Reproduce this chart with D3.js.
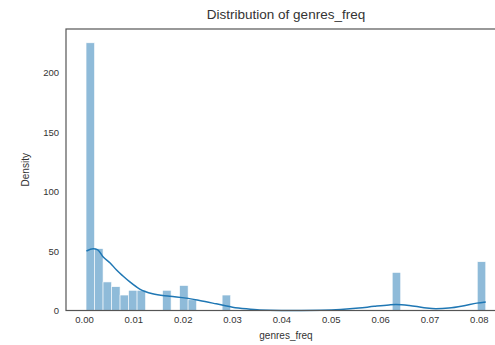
<!DOCTYPE html>
<html>
<head>
<meta charset="utf-8">
<script src="https://cdn.jsdelivr.net/npm/d3@7"></script>
<style>
  html, body { margin: 0; padding: 0; background: #fff; }
  svg { display: block; }
  text { font-family: "Liberation Sans", Arial, sans-serif; fill: #333; }
</style>
</head>
<body>
<svg id="chart" width="495" height="345"></svg>
<script>
// ---- Data ----
const binStart = 0.00042;      // left edge of first bin
const binWidth = 0.001723;     // width of each bin
const binDensity = [
  225, 52, 24, 20, 13, 17, 17, 0, 0, 17,
  0, 21, 9, 0, 0, 0, 13, 0, 0, 0,
  0, 0, 0, 0, 0, 0, 0, 0, 0, 0,
  0, 0, 0, 0, 0, 0, 32, 0, 0, 0,
  0, 0, 0, 0, 0, 0, 41
];
const kdeX = [0.0005, 0.0019, 0.0028, 0.0039, 0.0053, 0.0066, 0.0079, 0.0093, 0.0113, 0.0139,
              0.0174, 0.0207, 0.0234, 0.0268, 0.0301, 0.0329, 0.0356, 0.040, 0.044, 0.048,
              0.052, 0.0557, 0.0588, 0.0618, 0.0632, 0.0659, 0.0689, 0.0713, 0.0739, 0.077,
              0.0796, 0.0814];
const kdeY = [50, 52, 51, 45, 40, 34, 29, 24, 18, 14,
              12, 10.4, 8.4, 5.6, 2.8, 1.4, 0.5, 0.1, 0.05, 0.2,
              0.8, 2.0, 3.5, 4.7, 5.0, 4.2, 2.4, 1.5, 2.0, 4.0,
              6.2, 7.2];
const xTicks = [0.00, 0.01, 0.02, 0.03, 0.04, 0.05, 0.06, 0.07, 0.08];
const yTicks = [0, 50, 100, 150, 200];
const title = "Distribution of genres_freq";
const xLabel = "genres_freq";
const yLabel = "Density";

// ---- Layout ----
const mLeft = 66, mRight = 506, mTop = 29, mBottom = 310.5;
const svg = d3.select("#chart");

const x = d3.scaleLinear().domain([-0.00364, 0.0855]).range([mLeft, mRight]);
const y = d3.scaleLinear().domain([0, 236.6]).range([mBottom, mTop]);

// bars
const bins = binDensity.map((d, i) => ({ x0: binStart + i * binWidth, x1: binStart + (i + 1) * binWidth, v: d }));
svg.append("g").selectAll("rect")
  .data(bins.filter(b => b.v > 0))
  .join("rect")
  .attr("x", b => x(b.x0))
  .attr("width", b => x(b.x1) - x(b.x0))
  .attr("y", b => y(b.v))
  .attr("height", b => y(0) - y(b.v))
  .attr("fill", "rgba(31,119,180,0.5)")
  .attr("stroke", "#fff")
  .attr("stroke-width", 0.6);

// kde line
const kde = kdeX.map((d, i) => [d, kdeY[i]]);
svg.append("path")
  .datum(kde)
  .attr("fill", "none")
  .attr("stroke", "#1f77b4")
  .attr("stroke-width", 1.5)
  .attr("d", d3.line().x(d => x(d[0])).y(d => y(d[1])).curve(d3.curveMonotoneX));

// axes (no tick marks, seaborn white style)
const xAxis = svg.append("g").attr("transform", `translate(0,${mBottom})`)
  .call(d3.axisBottom(x).tickValues(xTicks).tickFormat(d3.format(".2f")).tickSize(0).tickPadding(6));
const yAxis = svg.append("g").attr("transform", `translate(${mLeft},0)`)
  .call(d3.axisLeft(y).tickValues(yTicks).tickFormat(d3.format("d")).tickSize(0).tickPadding(7));
[xAxis, yAxis].forEach(g => {
  g.select(".domain").remove();
  g.selectAll("text").attr("font-size", 9.5).attr("fill", "#555")
    .style("font-family", "'Liberation Sans', Arial, sans-serif");
});

// spines
svg.append("rect")
  .attr("x", mLeft).attr("y", mTop)
  .attr("width", mRight - mLeft).attr("height", mBottom - mTop)
  .attr("fill", "none").attr("stroke", "#555").attr("stroke-width", 1.2);

// labels
svg.append("text").attr("x", (mLeft + mRight) / 2).attr("y", 19)
  .attr("text-anchor", "middle").attr("font-size", 13.5).attr("fill", "#444").text(title);
svg.append("text").attr("x", (mLeft + mRight) / 2).attr("y", 339)
  .attr("text-anchor", "middle").attr("font-size", 10).attr("fill", "#555").text(xLabel);
svg.append("text").attr("transform", `translate(29,${(mTop + mBottom) / 2}) rotate(-90)`)
  .attr("text-anchor", "middle").attr("font-size", 10).attr("fill", "#555").text(yLabel);
</script>
</body>
</html>
